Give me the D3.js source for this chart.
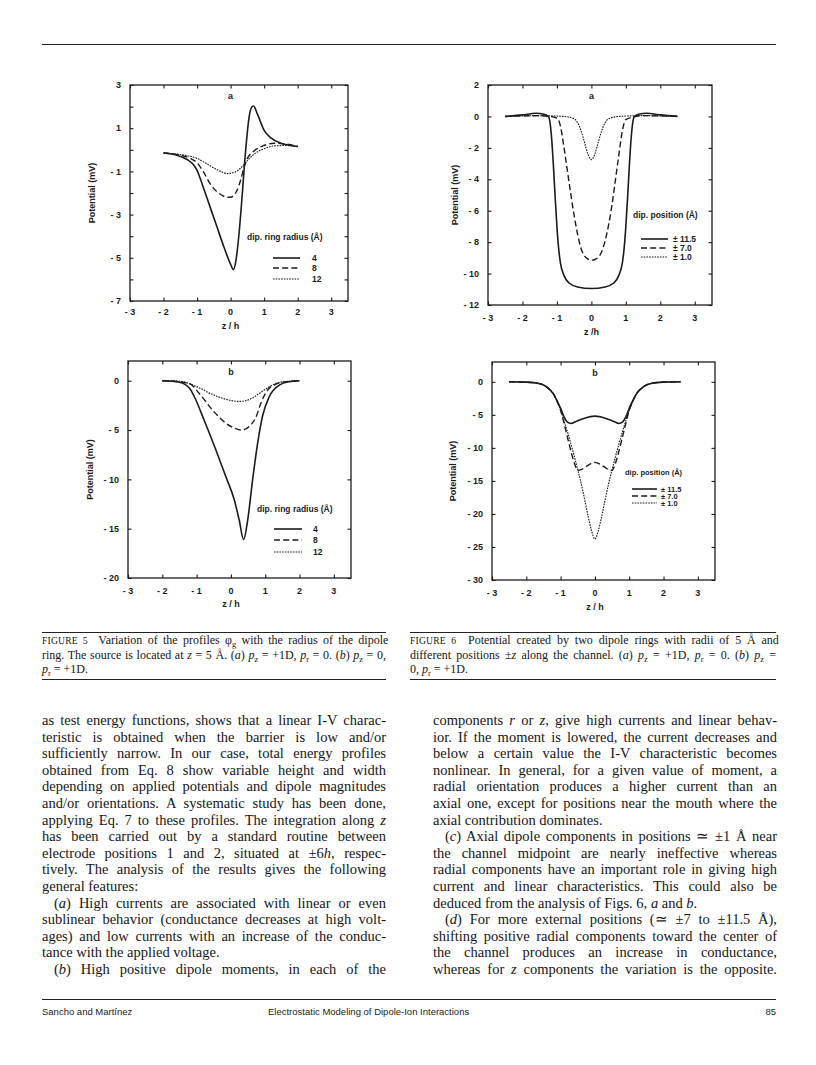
<!DOCTYPE html>
<html lang="en">
<head>
<meta charset="UTF-8">
<title>Figures 5 and 6 - Electrostatic Modeling of Dipole-Ion Interactions</title>
<script src="https://d3js.org/d3.v7.min.js"></script>
<style>
  body { margin: 0; background: #fff; }
  #page { position: relative; width: 816px; height: 1065px; overflow: hidden; background: #fff; }
  #plots { position: absolute; left: 0; top: 0; }
  .block { position: absolute; color: #161616; font-family: "Liberation Serif", "Times New Roman", serif; }
  .body { font-size: 14.5px; line-height: 16.6px; }
  .cap { font-size: 12px; line-height: 14px; }
  .ln { white-space: nowrap; }
  .ind { padding-left: 12px; }
  .sc { font-size: 9.6px; letter-spacing: 0.2px; }
  sub { font-size: 0.7em; vertical-align: -0.3em; line-height: 0; }
  .foot { position: absolute; font-family: "Liberation Sans", Arial, sans-serif; font-size: 9.5px; color: #222; }
  .rule { position: absolute; height: 0; border-top: 1.4px solid #222; }
</style>
</head>
<body>
<div id="page">
  <svg id="plots" width="816" height="1065"></svg>

  <div class="rule" style="left:42px; top:44px; width:734px;"></div>

  <!-- figure captions -->
  <div class="rule" style="left:42px; top:632px; width:344px;"></div>
  <div class="rule" style="left:42px; top:679px; width:344px;"></div>
  <div class="block cap" style="left:42px; top:633px; width:344px;">
    <div class="ln j"><span><span class="sc">FIGURE 5</span>&nbsp; Variation of the profiles φ<sub>g</sub> with the radius of the dipole</span></div>
    <div class="ln j"><span>ring. The source is located at <i>z</i> = 5 Å. (<i>a</i>) <i>p</i><sub>z</sub> = +1D, <i>p</i><sub>r</sub> = 0. (<i>b</i>) <i>p</i><sub>z</sub> = 0,</span></div>
    <div class="ln"><span><i>p</i><sub>r</sub> = +1D.</span></div>
  </div>
  <div class="rule" style="left:410px; top:632px; width:366px;"></div>
  <div class="rule" style="left:410px; top:679px; width:366px;"></div>
  <div class="block cap" style="left:410px; top:633px; width:366px;">
    <div class="ln j"><span><span class="sc">FIGURE 6</span>&nbsp; Potential created by two dipole rings with radii of 5 Å and</span></div>
    <div class="ln j"><span>different positions ±<i>z</i> along the channel. (<i>a</i>) <i>p</i><sub>z</sub> = +1D, <i>p</i><sub>r</sub> = 0. (<i>b</i>) <i>p</i><sub>z</sub> =</span></div>
    <div class="ln"><span>0, <i>p</i><sub>r</sub> = +1D.</span></div>
  </div>

  <!-- body text -->
  <div class="block body" style="left:42px; top:712px; width:344px;">
    <div class="ln j"><span>as test energy functions, shows that a linear I-V charac-</span></div>
    <div class="ln j"><span>teristic is obtained when the barrier is low and/or</span></div>
    <div class="ln j"><span>sufficiently narrow. In our case, total energy profiles</span></div>
    <div class="ln j"><span>obtained from Eq. 8 show variable height and width</span></div>
    <div class="ln j"><span>depending on applied potentials and dipole magnitudes</span></div>
    <div class="ln j"><span>and/or orientations. A systematic study has been done,</span></div>
    <div class="ln j"><span>applying Eq. 7 to these profiles. The integration along <i>z</i></span></div>
    <div class="ln j"><span>has been carried out by a standard routine between</span></div>
    <div class="ln j"><span>electrode positions 1 and 2, situated at ±6<i>h</i>, respec-</span></div>
    <div class="ln j"><span>tively. The analysis of the results gives the following</span></div>
    <div class="ln"><span>general features:</span></div>
    <div class="ln j ind"><span>(<i>a</i>) High currents are associated with linear or even</span></div>
    <div class="ln j"><span>sublinear behavior (conductance decreases at high volt-</span></div>
    <div class="ln j"><span>ages) and low currents with an increase of the conduc-</span></div>
    <div class="ln"><span>tance with the applied voltage.</span></div>
    <div class="ln j ind"><span>(<i>b</i>) High positive dipole moments, in each of the</span></div>
  </div>
  <div class="block body" style="left:433px; top:712px; width:344px;">
    <div class="ln j"><span>components <i>r</i> or <i>z</i>, give high currents and linear behav-</span></div>
    <div class="ln j"><span>ior. If the moment is lowered, the current decreases and</span></div>
    <div class="ln j"><span>below a certain value the I-V characteristic becomes</span></div>
    <div class="ln j"><span>nonlinear. In general, for a given value of moment, a</span></div>
    <div class="ln j"><span>radial orientation produces a higher current than an</span></div>
    <div class="ln j"><span>axial one, except for positions near the mouth where the</span></div>
    <div class="ln"><span>axial contribution dominates.</span></div>
    <div class="ln j ind"><span>(<i>c</i>) Axial dipole components in positions ≃ ±1 Å near</span></div>
    <div class="ln j"><span>the channel midpoint are nearly ineffective whereas</span></div>
    <div class="ln j"><span>radial components have an important role in giving high</span></div>
    <div class="ln j"><span>current and linear characteristics. This could also be</span></div>
    <div class="ln"><span>deduced from the analysis of Figs. 6, <i>a</i> and <i>b</i>.</span></div>
    <div class="ln j ind"><span>(<i>d</i>) For more external positions (≃ ±7 to ±11.5 Å),</span></div>
    <div class="ln j"><span>shifting positive radial components toward the center of</span></div>
    <div class="ln j"><span>the channel produces an increase in conductance,</span></div>
    <div class="ln j"><span>whereas for <i>z</i> components the variation is the opposite.</span></div>
  </div>

  <div class="rule" style="left:42px; top:999px; width:734px;"></div>
  <div class="foot" style="left:42px; top:1006px;">Sancho and Martínez</div>
  <div class="foot" style="left:268px; top:1006px;">Electrostatic Modeling of Dipole-Ion Interactions</div>
  <div class="foot" style="left:676px; top:1006px; width:100px; text-align:right;">85</div>
</div>

<script>
// ---- data ----
const zTicks = [-3, -2, -1, 0, 1, 2, 3];

// Fig 5a: dipole ring radius 4, 8, 12 A (pz = +1D)
const z5a_r4  = [-2, -1.6, -1.3, -1.1, -1.0, -0.9, -0.8, -0.6, -0.4, -0.2, 0, 0.08, 0.15, 0.25, 0.35, 0.45, 0.55, 0.62, 0.68, 0.8, 1.0, 1.2, 1.5, 1.8, 2.0];
const v5a_r4  = [-0.15, -0.25, -0.45, -0.7, -0.95, -1.35, -1.8, -2.7, -3.6, -4.5, -5.3, -5.55, -5.2, -3.9, -2.0, 0.0, 1.5, 1.95, 2.03, 1.65, 0.9, 0.55, 0.3, 0.2, 0.15];
const z5a_r8  = [-2, -1.5, -1.2, -1.0, -0.8, -0.6, -0.4, -0.2, -0.1, 0.0, 0.1, 0.2, 0.3, 0.4, 0.5, 0.7, 1.0, 1.3, 1.6, 2.0];
const v5a_r8  = [-0.15, -0.25, -0.4, -0.6, -1.05, -1.6, -1.95, -2.15, -2.2, -2.2, -2.1, -1.85, -1.4, -0.8, -0.4, -0.05, 0.2, 0.3, 0.28, 0.15];
const z5a_r12 = [-2, -1.5, -1.0, -0.6, -0.3, -0.1, 0.1, 0.3, 0.5, 0.7, 1.0, 1.3, 1.6, 2.0];
const v5a_r12 = [-0.15, -0.22, -0.4, -0.75, -1.0, -1.1, -1.05, -0.85, -0.5, -0.2, 0.05, 0.18, 0.2, 0.15];

// Fig 5b: same radii (pr = +1D)
const z5b_r4  = [-2, -1.5, -1.2, -1.07, -0.78, -0.44, -0.15, 0.1, 0.24, 0.37, 0.49, 0.63, 0.78, 0.92, 1.12, 1.41, 1.7, 2.0];
const v5b_r4  = [0, -0.15, -0.8, -1.6, -4.0, -7.0, -9.7, -12.1, -14.1, -16.1, -14.1, -10.1, -6.3, -3.6, -1.6, -0.45, -0.1, 0];
const z5b_r8  = [-2, -1.5, -1.2, -0.92, -0.53, -0.15, 0.1, 0.29, 0.45, 0.6, 0.73, 0.87, 1.07, 1.31, 1.6, 2.0];
const v5b_r8  = [0, -0.1, -0.3, -1.3, -3.0, -4.3, -4.8, -5.0, -4.85, -4.4, -3.7, -2.3, -0.95, -0.35, -0.1, 0];
const z5b_r12 = [-2, -1.5, -1.0, -0.5, 0, 0.24, 0.45, 0.63, 0.8, 0.97, 1.15, 1.31, 1.6, 2.0];
const v5b_r12 = [0, -0.05, -0.6, -1.45, -2.0, -2.1, -2.0, -1.75, -1.35, -0.95, -0.55, -0.27, -0.08, 0];

// Fig 6a: dipole position +-11.5, +-7.0, +-1.0 A (pz = +1D)
const z6a_p115 = [-2.5, -2.0, -1.6, -1.4, -1.25, -1.2, -1.15, -1.1, -1.05, -1.0, -0.95, -0.9, -0.8, -0.65, -0.4, 0, 0.4, 0.65, 0.8, 0.9, 0.95, 1.0, 1.05, 1.1, 1.15, 1.2, 1.25, 1.4, 1.6, 2.0, 2.5];
const v6a_p115 = [0, 0.1, 0.2, 0.15, 0.0, -0.4, -1.5, -3.2, -5.2, -7.0, -8.4, -9.3, -10.1, -10.6, -10.85, -10.95, -10.85, -10.6, -10.1, -9.3, -8.4, -7.0, -5.2, -3.2, -1.5, -0.4, 0.0, 0.15, 0.2, 0.1, 0];
const z6a_p70  = [-2.5, -1.5, -1.0, -0.9, -0.8, -0.7, -0.6, -0.5, -0.4, -0.3, -0.15, 0, 0.15, 0.3, 0.4, 0.5, 0.6, 0.7, 0.8, 0.9, 1.0, 1.5, 2.5];
const v6a_p70  = [0, 0.05, -0.1, -0.6, -1.9, -3.4, -4.9, -6.3, -7.5, -8.4, -9.0, -9.15, -9.05, -8.6, -7.9, -6.9, -5.6, -4.0, -2.4, -0.9, -0.2, 0.05, 0];
const z6a_p10  = [-2.5, -1.5, -0.8, -0.5, -0.4, -0.3, -0.2, -0.1, 0, 0.1, 0.2, 0.3, 0.4, 0.5, 0.8, 1.5, 2.5];
const v6a_p10  = [0, 0.05, 0.0, -0.15, -0.4, -0.9, -1.65, -2.4, -2.75, -2.4, -1.65, -0.9, -0.4, -0.15, 0.0, 0.05, 0];

// Fig 6b: same positions (pr = +1D)
const z6b_p115 = [-2.5, -2.0, -1.6, -1.4, -1.2, -1.1, -1.0, -0.9, -0.8, -0.7, -0.55, -0.3, 0, 0.3, 0.55, 0.7, 0.8, 0.9, 1.0, 1.1, 1.2, 1.4, 1.6, 2.0, 2.5];
const v6b_p115 = [0, -0.05, -0.3, -0.8, -1.9, -2.9, -4.0, -5.3, -6.1, -6.3, -6.0, -5.5, -5.2, -5.5, -6.0, -6.3, -6.1, -5.3, -4.0, -2.9, -1.9, -0.8, -0.3, -0.05, 0];
const z6b_p70  = [-2.5, -2.0, -1.6, -1.4, -1.2, -1.1, -1.0, -0.9, -0.8, -0.7, -0.6, -0.5, -0.4, -0.25, 0, 0.25, 0.4, 0.5, 0.6, 0.7, 0.8, 0.9, 1.0, 1.1, 1.2, 1.4, 1.6, 2.0, 2.5];
const v6b_p70  = [0, -0.05, -0.3, -0.8, -1.9, -3.0, -4.3, -6.3, -8.4, -10.5, -12.3, -13.4, -13.3, -12.8, -12.2, -12.8, -13.3, -13.4, -12.3, -10.5, -8.4, -6.3, -4.3, -3.0, -1.9, -0.8, -0.3, -0.05, 0];
const z6b_p10  = [-2.5, -2.0, -1.6, -1.4, -1.2, -1.1, -1.0, -0.9, -0.8, -0.7, -0.6, -0.5, -0.4, -0.3, -0.2, -0.1, 0, 0.1, 0.2, 0.3, 0.4, 0.5, 0.6, 0.7, 0.8, 0.9, 1.0, 1.1, 1.2, 1.4, 1.6, 2.0, 2.5];
const v6b_p10  = [0, -0.05, -0.3, -0.8, -1.9, -3.0, -4.3, -5.9, -7.6, -9.4, -11.3, -13.3, -15.4, -17.8, -20.3, -22.5, -23.8, -22.5, -20.3, -17.8, -15.4, -13.3, -11.3, -9.4, -7.6, -5.9, -4.3, -3.0, -1.9, -0.8, -0.3, -0.05, 0];

const radiusLabels   = ['4', '8', '12'];
const positionLabels = ['± 11.5', '± 7.0', '± 1.0'];

// ---- drawing ----
const svg = d3.select('#plots');
const ink = '#1c1c1c';
const dashStyles = [null, '6,3.2', '1.6,1.1'];
const strokeW = [1.6, 1.4, 1.15];
const fmt = d => d < 0 ? '- ' + Math.abs(d) : String(d);

function pairs(zs, vs) { return zs.map((z, i) => [z, vs[i]]); }

const panels = [
  { letter: 'a', box: [130, 85, 348, 301], yDom: [-7, 3], yLabels: [3, 1, -1, -3, -5, -7], yStep: 1,
    series: [pairs(z5a_r4, v5a_r4), pairs(z5a_r8, v5a_r8), pairs(z5a_r12, v5a_r12)],
    legTitle: 'dip.  ring  radius (Å)', legNames: radiusLabels, legFont: 8.5,
    leg: { tx: 247, ty: 237, x0: 273, x1: 300, lx: 312, rows: [258, 268, 279] },
    yTitleX: 92, xLabY: 312, xTitleY: 326, xTitle: 'z / h' },
  { letter: 'a', box: [488, 85, 712, 305], yDom: [-12, 2], yLabels: [2, 0, -2, -4, -6, -8, -10, -12], yStep: 2,
    series: [pairs(z6a_p115, v6a_p115), pairs(z6a_p70, v6a_p70), pairs(z6a_p10, v6a_p10)],
    legTitle: 'dip. position  (Å)', legNames: positionLabels, legFont: 8.5,
    leg: { tx: 633, ty: 215, x0: 641, x1: 668, lx: 673, rows: [239, 248, 257] },
    yTitleX: 455, xLabY: 318, xTitleY: 332, xTitle: 'z /h' },
  { letter: 'b', box: [128, 361, 351, 578], yDom: [-20, 2], yLabels: [0, -5, -10, -15, -20], yStep: 5,
    series: [pairs(z5b_r4, v5b_r4), pairs(z5b_r8, v5b_r8), pairs(z5b_r12, v5b_r12)],
    legTitle: 'dip.  ring  radius (Å)', legNames: radiusLabels, legFont: 8.5,
    leg: { tx: 257, ty: 509, x0: 274, x1: 302, lx: 313, rows: [529, 540, 552] },
    yTitleX: 90, xLabY: 591, xTitleY: 604, xTitle: 'z / h' },
  { letter: 'b', box: [492, 362, 715, 580], yDom: [-30, 3], yLabels: [0, -5, -10, -15, -20, -25, -30], yStep: 5,
    series: [pairs(z6b_p115, v6b_p115), pairs(z6b_p70, v6b_p70), pairs(z6b_p10, v6b_p10)],
    legTitle: 'dip. position (Å)', legNames: positionLabels, legFont: 7.5,
    leg: { tx: 625, ty: 472, x0: 632, x1: 657, lx: 661, rows: [489, 496, 503] },
    yTitleX: 453, xLabY: 593, xTitleY: 607, xTitle: 'z / h' }
];

panels.forEach(p => {
  const [l, t, r, b] = p.box;
  const x = d3.scaleLinear().domain([-3, 3.5]).range([l, r]);
  const y = d3.scaleLinear().domain(p.yDom).range([b, t]);
  const g = svg.append('g')
    .attr('font-family', '"Liberation Sans", Arial, sans-serif')
    .attr('font-weight', 'bold')
    .attr('font-size', 9)
    .attr('fill', ink);

  const yTickVals = d3.range(p.yDom[0], p.yDom[1] + 0.001, p.yStep);

  // inward ticks on all four sides
  const axes = [
    [d3.axisBottom(x).tickValues(zTicks), `translate(0,${b})`],
    [d3.axisTop(x).tickValues(zTicks), `translate(0,${t})`],
    [d3.axisLeft(y).tickValues(yTickVals), `translate(${l},0)`],
    [d3.axisRight(y).tickValues(yTickVals), `translate(${r},0)`]
  ];
  axes.forEach(([ax, tr]) => {
    const a = g.append('g').attr('transform', tr).call(ax.tickSize(-3.5).tickFormat(''));
    a.select('.domain').remove();
    a.selectAll('line').attr('stroke', ink).attr('stroke-width', 1.1);
  });

  // frame
  g.append('rect')
    .attr('x', l).attr('y', t).attr('width', r - l).attr('height', b - t)
    .attr('fill', 'none').attr('stroke', ink).attr('stroke-width', 1.3);

  // tick labels
  g.selectAll('.xl').data(zTicks).join('text')
    .attr('x', d => x(d)).attr('y', p.xLabY).attr('dy', '0.35em')
    .attr('text-anchor', 'middle').text(fmt);
  g.selectAll('.yl').data(p.yLabels).join('text')
    .attr('x', l - 9).attr('y', d => y(d)).attr('dy', '0.35em')
    .attr('text-anchor', 'end').text(fmt);

  // titles
  g.append('text').attr('x', x(0)).attr('y', p.xTitleY).attr('dy', '0.35em')
    .attr('text-anchor', 'middle').text(p.xTitle);
  g.append('text')
    .attr('transform', `translate(${p.yTitleX},${(t + b) / 2}) rotate(-90)`)
    .attr('dy', '0.35em').attr('text-anchor', 'middle').text('Potential  (mV)');
  g.append('text').attr('x', x(0)).attr('y', t + 11).attr('dy', '0.35em')
    .attr('text-anchor', 'middle').text(p.letter);

  // curves
  const line = d3.line().x(d => x(d[0])).y(d => y(d[1])).curve(d3.curveMonotoneX);
  p.series.forEach((s, i) => {
    g.append('path').datum(s).attr('d', line)
      .attr('fill', 'none').attr('stroke', ink)
      .attr('stroke-width', strokeW[i])
      .attr('stroke-dasharray', dashStyles[i])
      .attr('stroke-linejoin', 'round');
  });

  // legend
  const lg = g.append('g').attr('font-size', p.legFont);
  lg.append('text').attr('x', p.leg.tx).attr('y', p.leg.ty).attr('dy', '0.35em').text(p.legTitle);
  p.legNames.forEach((name, i) => {
    lg.append('line')
      .attr('x1', p.leg.x0).attr('x2', p.leg.x1)
      .attr('y1', p.leg.rows[i]).attr('y2', p.leg.rows[i])
      .attr('stroke', ink).attr('stroke-width', strokeW[i])
      .attr('stroke-dasharray', dashStyles[i]);
    lg.append('text').attr('x', p.leg.lx).attr('y', p.leg.rows[i]).attr('dy', '0.35em').text(name);
  });
});

// justify each printed line to its column width
document.querySelectorAll('.ln.j').forEach(el => {
  const span = el.firstElementChild;
  const pad = parseFloat(getComputedStyle(el).paddingLeft) || 0;
  const W = el.parentNode.clientWidth - pad;
  const gaps = (span.textContent.match(/ /g) || []).length;
  if (!gaps) return;
  const extra = (W - span.getBoundingClientRect().width) / gaps;
  span.style.wordSpacing = extra + 'px';
});
</script>
</body>
</html>
